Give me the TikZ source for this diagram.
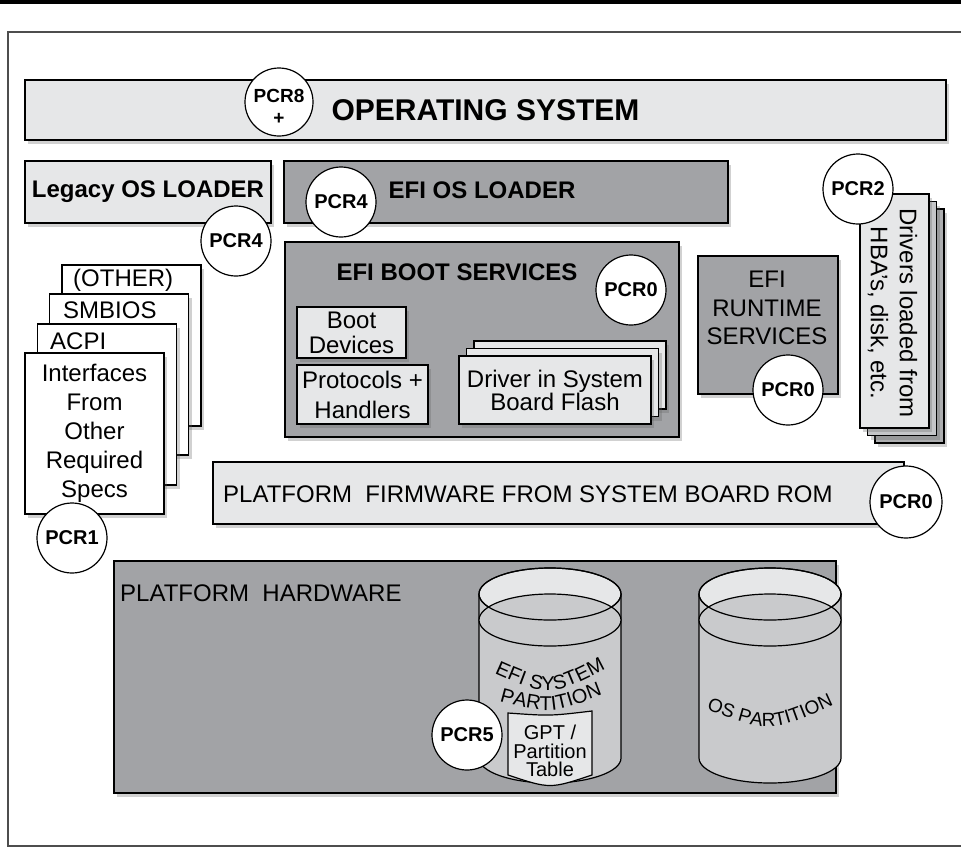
\documentclass[tikz,border=0pt]{standalone}
\usepackage{fontspec}
\setmainfont{Liberation Sans}
\usetikzlibrary{shadows,decorations.text}
\definecolor{boxlite}{HTML}{E6E7E8}
\definecolor{boxdark}{HTML}{A2A3A6}
\definecolor{cylbody}{HTML}{C9CACC}
\definecolor{stackmid}{HTML}{C4C5C7}
\definecolor{stackback}{HTML}{ADAEB0}
\definecolor{framegray}{HTML}{4D4D4D}

\begin{document}
\begin{tikzpicture}[x=1pt,y=-1pt,
  box/.style={draw=black,line width=1.3pt,inner sep=0pt,
    drop shadow={shadow xshift=3pt,shadow yshift=-4pt,opacity=.3,fill=black!60}},
  lite/.style={box,fill=boxlite},
  dark/.style={box,fill=boxdark},
  sheet/.style={box,fill=white},
  pcr/.style={circle,draw=black,line width=1.2pt,fill=white,minimum size=70pt,inner sep=0pt,
    font=\fontsize{20}{23}\selectfont\bfseries},
  big/.style={inner sep=0pt,font=\fontsize{24}{29}\selectfont},
  bigbold/.style={inner sep=0pt,font=\fontsize{24}{29}\selectfont\bfseries},
  cyltext/.style={inner sep=0pt,font=\fontsize{20}{18.5}\selectfont}]
\useasboundingbox (0,0) rectangle (961,847);
\draw[line width=3.5pt] (0,2) -- (961,2);
\draw[framegray,line width=1.5pt] (961,32) -- (8,32) -- (8,846) -- (961,846);

\node[lite,minimum width=921pt,minimum height=60pt,font=\fontsize{30}{30}\selectfont\bfseries] (osbox) at (485.5,110) {OPERATING SYSTEM};
\node[pcr,minimum size=68pt] (pcreight) at (279,102) {};
\node[font=\fontsize{19}{19}\selectfont\bfseries,inner sep=0pt] (pcreighttxt) at (279,96) {PCR8};
\node[font=\fontsize{19}{19}\selectfont\bfseries,inner sep=0pt] (pcreightplus) at (279,119) {+};

\node[lite,minimum width=246pt,minimum height=62pt,bigbold] (legacy) at (148,192) {Legacy OS LOADER};
\node[pcr] (pcrlegacy) at (236,241) {PCR4};
\node[dark,minimum width=444pt,minimum height=62pt] (efildr) at (506,192) {};
\node[bigbold] (efildrtxt) at (482,190) {EFI OS LOADER};
\node[pcr] (pcrefildr) at (341,202) {PCR4};

\node[dark,minimum width=394pt,minimum height=195pt] (bootsvc) at (482,339.5) {};
\node[bigbold] (bootsvctxt) at (457,272) {EFI BOOT SERVICES};
\node[pcr] (pcrboot) at (631,290) {PCR0};
\node[lite,minimum width=109pt,minimum height=51pt,font=\fontsize{24}{25}\selectfont,align=center] (bootdev) at (351.5,332.5) {Boot\\Devices};
\node[lite,minimum width=131pt,minimum height=59pt,font=\fontsize{24}{30}\selectfont,align=center] (protocols) at (362.5,394.5) {Protocols +\\Handlers};
\foreach \d/\n in {15/flashc,7.5/flashb}
  \node[lite,minimum width=192pt,minimum height=68pt] (\n) at (555+\d,390-\d) {};
\node[lite,minimum width=192pt,minimum height=68pt,font=\fontsize{24}{23}\selectfont,align=center] (flash) at (555,390) {Driver in System\\Board Flash};

\node[dark,minimum width=140pt,minimum height=138pt] (runtime) at (768,325) {};
\node[big,align=center,font=\fontsize{24}{28.5}\selectfont] (runtimetxt) at (767,308) {EFI\\RUNTIME\\SERVICES};
\node[pcr] (pcrruntime) at (788,390) {PCR0};

\node[box,fill=stackback,minimum width=69pt,minimum height=234pt] (hbac) at (909.5,326) {};
\node[box,fill=stackmid,minimum width=69pt,minimum height=234pt] (hbab) at (902,318.5) {};
\node[lite,minimum width=69pt,minimum height=234pt] (hba) at (894.5,311) {};
\node[big,rotate=-90,align=center] (hbatxt) at (892.5,313) {Drivers loaded from\\HBA’s, disk, etc.};
\node[pcr] (pcrhba) at (858,189) {PCR2};

\node[sheet,minimum width=139pt,minimum height=161pt] (other) at (131.5,345.5) {};
\node[big,anchor=west] (othertxt) at (73,280) {(OTHER)};
\node[sheet,minimum width=139pt,minimum height=161pt] (smbios) at (119,374.5) {};
\node[big,anchor=west] (smbiostxt) at (63,310) {SMBIOS};
\node[sheet,minimum width=139pt,minimum height=161pt] (acpi) at (107,404.5) {};
\node[big,anchor=west] (acpitxt) at (50,341) {ACPI};
\node[sheet,minimum width=139pt,minimum height=161pt,big,align=center] (specs) at (94.5,433.5) {Interfaces\\From\\Other\\Required\\Specs};
\node[pcr] (pcrspecs) at (72,538) {PCR1};

\node[lite,minimum width=691pt,minimum height=62pt] (firmware) at (558.5,493) {};
\node[big,anchor=west] (firmwaretxt) at (223,494) {PLATFORM\ \ FIRMWARE FROM SYSTEM BOARD ROM};
\node[pcr,minimum size=72pt] (pcrrom) at (906,502) {PCR0};

\node[dark,minimum width=722pt,minimum height=232pt] (hardware) at (475,677) {};
\node[big,anchor=west] (hardwaretxt) at (120,593) {PLATFORM\ \ HARDWARE};

\foreach \cx in {550,770}{
  \filldraw[fill=cylbody,line width=1.2pt] (\cx-71,594) -- (\cx-71,758)
    arc[start angle=180,end angle=360,x radius=71pt,y radius=25pt] -- (\cx+71,594);
  \filldraw[fill=boxlite,line width=1.2pt] (\cx,594) ellipse[x radius=71pt,y radius=26pt];
  \filldraw[fill=cylbody,line width=1.2pt] (\cx,620) ellipse[x radius=71pt,y radius=26pt];
  \draw[line width=1.2pt] (\cx,594) ellipse[x radius=71pt,y radius=26pt];
}
\path[decorate,decoration={text along path,text align=center,
  text={|\fontsize{20}{20}\selectfont|EFI SYSTEM}}] (487,670) .. controls (550,698) .. (613,665);
\path[decorate,decoration={text along path,text align=center,
  text={|\fontsize{20}{20}\selectfont|PARTITION}}] (492,699) .. controls (550,715) .. (610,692);
\path[decorate,decoration={text along path,text align=center,
  text={|\fontsize{19}{19}\selectfont|OS PARTITION}}] (698,706) .. controls (770,734) .. (842,701);
\filldraw[fill=boxlite,line width=1.2pt] (508,713) .. controls (550,716) .. (592,711) -- (592,775)
  .. controls (550,789) .. (508,775) -- cycle;
\node[cyltext,align=center] (gpt) at (550,751) {GPT /\\Partition\\Table};
\node[pcr] (pcrgpt) at (467,735) {PCR5};
\end{tikzpicture}
\end{document}
